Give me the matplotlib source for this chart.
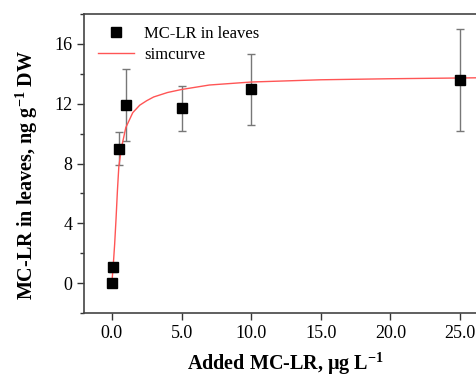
import matplotlib.pyplot as plt
from matplotlib.ticker import MultipleLocator

# measured data
added = [0.0, 0.1, 0.5, 1.0, 5.0, 10.0, 25.0]
leaves = [0.0, 1.05, 9.0, 11.9, 11.7, 12.95, 13.6]
err_lo = [0.0, 0.3, 1.1, 2.4, 1.5, 2.35, 3.4]
err_hi = [0.0, 0.3, 1.1, 2.4, 1.5, 2.35, 3.4]

# fitted curve
curve_x = [0.0, 0.1, 0.2, 0.3, 0.4, 0.5, 0.7, 1.0, 1.5, 2.0, 2.5, 3.0,
           4.0, 5.0, 7.0, 10.0, 15.0, 20.0, 25.0, 27.0]
curve_y = [0.0, 1.2, 2.6, 4.3, 6.2, 7.8, 9.1, 10.4, 11.4, 11.9, 12.2, 12.45,
           12.75, 12.95, 13.25, 13.45, 13.6, 13.67, 13.72, 13.74]

plt.rcParams['font.family'] = ['Liberation Serif', 'DejaVu Serif']

fig = plt.figure(figsize=(4.76, 3.8), dpi=100)
ax = fig.add_axes([84/476, 67/380, 404/476, 299/380])

ax.errorbar(added, leaves, yerr=[err_lo, err_hi], fmt='none', ecolor='#777777',
            elinewidth=1, capsize=3, capthick=1, zorder=2)
ax.plot(added, leaves, 's', color='black', markersize=6.5, zorder=4,
        label='MC-LR in leaves')
ax.plot(curve_x, curve_y, '-', color='#ff5555', lw=1, zorder=3,
        label='simcurve')

ax.set_xlim(-2, 27)
ax.set_ylim(-2, 18)
ax.yaxis.set_major_locator(MultipleLocator(4))
ax.yaxis.set_minor_locator(MultipleLocator(2))
ax.set_xticks([0, 5, 10, 15, 20, 25])
ax.set_xticklabels(['0.0', '5.0', '10.0', '15.0', '20.0', '25.0'])
ax.tick_params(axis='both', which='major', direction='out', length=5,
               width=1, labelsize=13, colors='#333333', labelcolor='black')
ax.tick_params(axis='y', which='minor', direction='out', length=3, width=1,
               colors='#333333')
ax.tick_params(top=False, right=False)
for s in ax.spines.values():
    s.set_color('#444444')
    s.set_linewidth(1.2)

ax.set_xlabel('Added MC-LR, μg L$^{\\mathregular{-1}}$', fontsize=14.5,
              fontweight='bold')
ax.set_ylabel('MC-LR in leaves, ng g$^{\\mathregular{-1}}$ DW', fontsize=14.5,
              fontweight='bold')
ax.xaxis.set_label_coords(0.4975, -0.17)
ax.yaxis.set_label_coords(-0.141, 0.46)
ax.xaxis.label.set_va('center')
ax.yaxis.label.set_va('center')

ax.legend(loc='upper left', frameon=False, fontsize=12, handlelength=2.2,
          borderaxespad=0.3, handletextpad=0.6, labelspacing=0.3,
          bbox_to_anchor=(0.005, 1.0))

fig.savefig('out.png', dpi=100)
